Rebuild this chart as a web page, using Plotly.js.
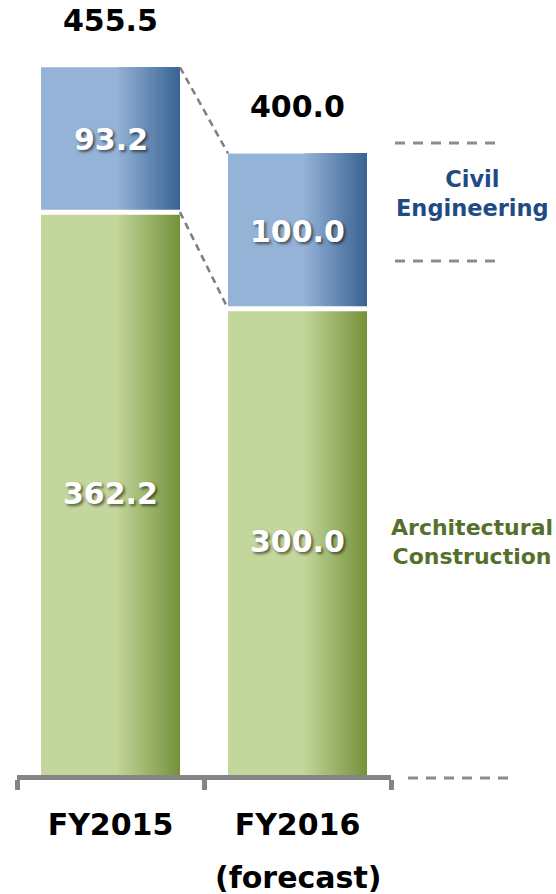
<!DOCTYPE html>
<html>
<head>
<meta charset="utf-8">
<script src="https://cdn.plot.ly/plotly-3.0.1.min.js"></script>
<style>
  html, body { margin: 0; padding: 0; background: #ffffff; }
  #chart { width: 556px; height: 894px; }
</style>
</head>
<body>
<div id="chart"></div>
<script>
// ---- data ----
const categories = ["FY2015", "FY2016"];
const subLabels = ["", "(forecast)"];
const archValues = [362.2, 300.0];
const civilValues = [93.2, 100.0];
const totalLabels = ["455.5", "400.0"];
const archLabels = ["362.2", "300.0"];
const civilLabels = ["93.2", "100.0"];
const seriesNames = ["Architectural<br>Construction", "Civil<br>Engineering"];

// ---- styling ----
const FONT = "DejaVu Sans";
const BAR_W = 0.743;
const N_STRIPS = 24;
const GRAD_START = 0.55;

function hexToRgb(h) {
  return [parseInt(h.substr(1,2),16), parseInt(h.substr(3,2),16), parseInt(h.substr(5,2),16)];
}
function mix(a, b, t) {
  const A = hexToRgb(a), B = hexToRgb(b);
  const c = A.map((v, k) => Math.round(v + (B[k] - v) * t));
  return "rgb(" + c.join(",") + ")";
}

function gradientBars(values, base, light, dark, name) {
  const traces = [];
  for (let i = 0; i <= N_STRIPS; i++) {
    let start, color;
    if (i === 0) {
      start = -BAR_W / 2;
      color = light;
    } else {
      const f = GRAD_START + (1 - GRAD_START) * (i - 1) / N_STRIPS;
      start = -BAR_W / 2 + BAR_W * f;
      color = mix(light, dark, i / N_STRIPS);
    }
    traces.push({
      type: "bar",
      name: name,
      x: categories,
      y: values,
      base: base,
      offset: start,
      width: BAR_W / 2 - start,
      marker: { color: color, line: { width: 0 } },
      hoverinfo: "skip",
      showlegend: false
    });
  }
  return traces;
}

const data = []
  .concat(gradientBars(archValues, [0, 0], "#C3D69B", "#76933C", "Architectural Construction"))
  .concat(gradientBars(civilValues, archValues, "#95B3D7", "#3B6494", "Civil Engineering"));

const totals = archValues.map((v, i) => v + civilValues[i]);

const annotations = [];
// totals above bars
categories.forEach((c, i) => {
  annotations.push({
    x: i, y: totals[i], xref: "x", yref: "y",
    text: totalLabels[i], showarrow: false,
    yanchor: "middle", yshift: 47,
    font: { family: FONT, size: 30, color: "#000000", weight: "bold" }
  });
});
// segment labels (white, shadow added via CSS after render)
function segLabel(x, y, txt) {
  annotations.push({
    x: x, y: y, xref: "x", yref: "y", text: txt, showarrow: false,
    font: { family: FONT, size: 30, color: "#ffffff", weight: "bold" }
  });
}
categories.forEach((c, i) => {
  segLabel(i, archValues[i] / 2, archLabels[i]);
  segLabel(i, archValues[i] + civilValues[i] / 2, civilLabels[i]);
});
// sub labels under categories
categories.forEach((c, i) => {
  if (subLabels[i]) {
    annotations.push({
      x: i, y: -0.138, xref: "x", yref: "paper", text: subLabels[i],
      showarrow: false, yanchor: "middle",
      font: { family: FONT, size: 30, color: "#000000", weight: "bold" }
    });
  }
});
// series names on the right
annotations.push({
  x: 1.2166, y: 0.781, xref: "paper", yref: "paper", text: seriesNames[1],
  showarrow: false, xanchor: "center", yanchor: "middle",
  font: { family: FONT, size: 22.5, color: "#1F4B85", weight: "bold" }
});
annotations.push({
  x: 1.2166, y: 0.313, xref: "paper", yref: "paper", text: seriesNames[0],
  showarrow: false, xanchor: "center", yanchor: "middle",
  font: { family: FONT, size: 22, color: "#56702C", weight: "bold" }
});

const shapes = [];
// white separators between segments
categories.forEach((c, i) => {
  shapes.push({
    type: "line", xref: "x", yref: "y",
    x0: i - BAR_W / 2, x1: i + BAR_W / 2, y0: archValues[i], y1: archValues[i],
    line: { color: "#ffffff", width: 5 }
  });
});
// connector dashed lines between bars
shapes.push({
  type: "line", xref: "x", yref: "y",
  x0: 0 + BAR_W / 2, y0: totals[0], x1: 1 - BAR_W / 2, y1: totals[1],
  line: { color: "#7F7F7F", width: 2.5, dash: "7px,5px" }
});
shapes.push({
  type: "line", xref: "x", yref: "y",
  x0: 0 + BAR_W / 2, y0: archValues[0], x1: 1 - BAR_W / 2, y1: archValues[1],
  line: { color: "#7F7F7F", width: 2.5, dash: "7px,5px" }
});
// bracket dashed lines on the right
[[1.0107, 1.2888, 0.8483], [1.0107, 1.2888, 0.6899], [1.0455, 1.3262, -0.004]].forEach(s => {
  shapes.push({
    type: "line", xref: "paper", yref: "paper",
    x0: s[0], x1: s[1], y0: s[2], y1: s[2],
    line: { color: "#8C8C8C", width: 3, dash: "10px,8px" }
  });
});

const layout = {
  width: 556, height: 894,
  margin: { l: 17, r: 165, t: 30, b: 119 },
  paper_bgcolor: "#ffffff", plot_bgcolor: "#ffffff",
  barmode: "overlay",
  showlegend: false,
  hovermode: false,
  xaxis: {
    type: "category",
    range: [-0.5, 1.5],
    showline: true, linecolor: "#858585", linewidth: 5,
    ticks: "outside", tickson: "boundaries", ticklen: 10, tickwidth: 5, tickcolor: "#858585",
    showgrid: false, zeroline: false,
    tickfont: { family: FONT, size: 30, color: "#000000", weight: "bold" },
    ticklabelstandoff: 19
  },
  yaxis: {
    range: [0, 479.4],
    visible: false, showgrid: false, zeroline: false
  },
  annotations: annotations,
  shapes: shapes
};

Plotly.newPlot("chart", data, layout, { displayModeBar: false, staticPlot: true }).then(gd => {
  gd.querySelectorAll("text.annotation-text").forEach(t => {
    const fill = (t.style.fill || t.getAttribute("fill") || "").replace(/\s/g, "");
    if (fill === "rgb(255,255,255)" || fill === "#ffffff") {
      t.style.textShadow = "2px 2px 3px rgba(0,0,0,0.55)";
    }
  });
});
</script>
</body>
</html>
